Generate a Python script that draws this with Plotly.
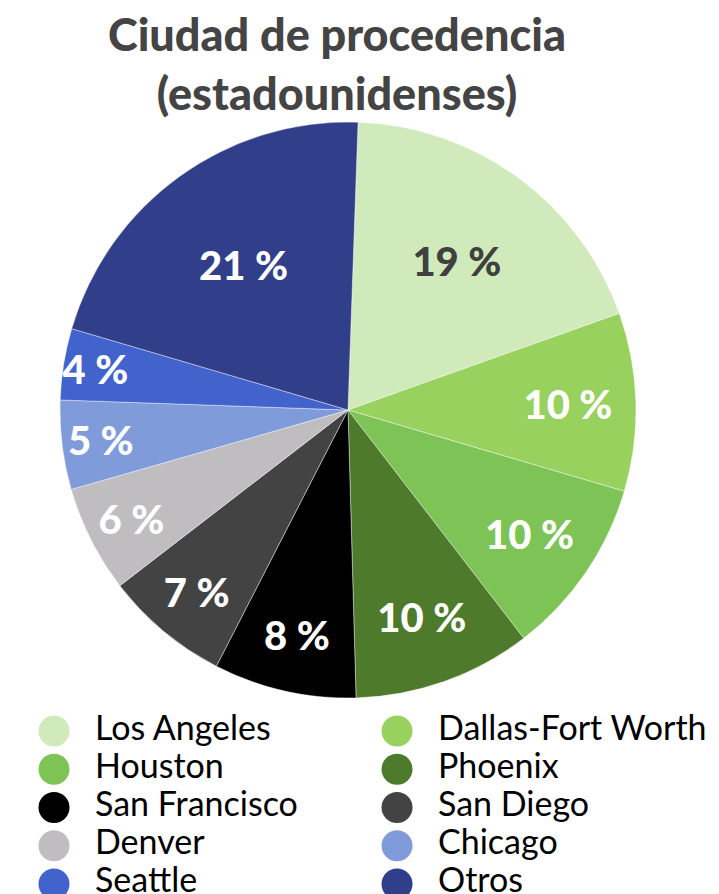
import plotly.graph_objects as go

labels = ["Los Angeles", "Dallas-Fort Worth", "Houston", "Phoenix", "San Francisco",
          "San Diego", "Denver", "Chicago", "Seattle", "Otros"]
values = [19, 10, 10, 10, 8, 7, 6, 5, 4, 21]
colors = ["#d0eabb", "#99d15f", "#7dc356", "#4e7a2b", "#000000",
          "#434343", "#bfbdc0", "#7f9bd9", "#4263cc", "#313e8a"]
text_colors = ["#404040", "white", "white", "white", "white",
               "white", "white", "white", "white", "white"]

W, H = 719, 894
OFF = 8  # page body margin offset

fig = go.Figure()
fig.add_trace(go.Pie(
    labels=labels, values=values, sort=False, direction="clockwise", rotation=2,
    marker=dict(colors=colors, line=dict(color="rgba(255,255,255,0.6)", width=0.7)),
    texttemplate="%{value} %", textposition="inside", insidetextorientation="horizontal",
    textfont=dict(family="Lato", size=40, color=text_colors, weight=900),
    showlegend=False, hoverinfo="label+value",
    domain=dict(x=[(60 - OFF) / W, (636 - OFF) / W],
                y=[1 - (698 - OFF) / H, 1 - (122 - OFF) / H]),
))

# Two-column legend with large circular markers (row-wise order)
ncol = 2
leg_x = [i % ncol for i in range(len(labels))]
leg_y = [i // ncol for i in range(len(labels))]
text_dx = 41 / 343
fig.add_trace(go.Scatter(
    x=leg_x, y=leg_y, mode="markers", cliponaxis=False,
    marker=dict(symbol="circle", size=31, color=colors),
    showlegend=False, hoverinfo="skip",
))
fig.add_trace(go.Scatter(
    x=[v + text_dx for v in leg_x], y=leg_y, mode="text", text=labels,
    textposition="middle right", cliponaxis=False,
    textfont=dict(family="Lato", size=34, color="#000000"),
    showlegend=False, hoverinfo="skip",
))

fig.update_layout(
    width=W, height=H,
    margin=dict(l=0, r=0, t=0, b=0, autoexpand=False),
    paper_bgcolor="white", plot_bgcolor="white",
    showlegend=False,
    uniformtext=dict(minsize=40, mode="show"),
    annotations=[dict(
        text="Ciudad de procedencia<br>(estadounidenses)",
        xref="paper", yref="paper", x=(337 - OFF) / W, y=1 - (63 - OFF) / H,
        xanchor="center", yanchor="middle", showarrow=False,
        font=dict(family="Lato", size=45, color="#444444", weight=900),
    )],
    xaxis=dict(visible=False, domain=[0, 1], range=[-0.1341, 1.962], fixedrange=True),
    yaxis=dict(visible=False, domain=[0, 1 - 700 / H], range=[4.471, -0.601], fixedrange=True),
)

fig.write_html("out.html")
